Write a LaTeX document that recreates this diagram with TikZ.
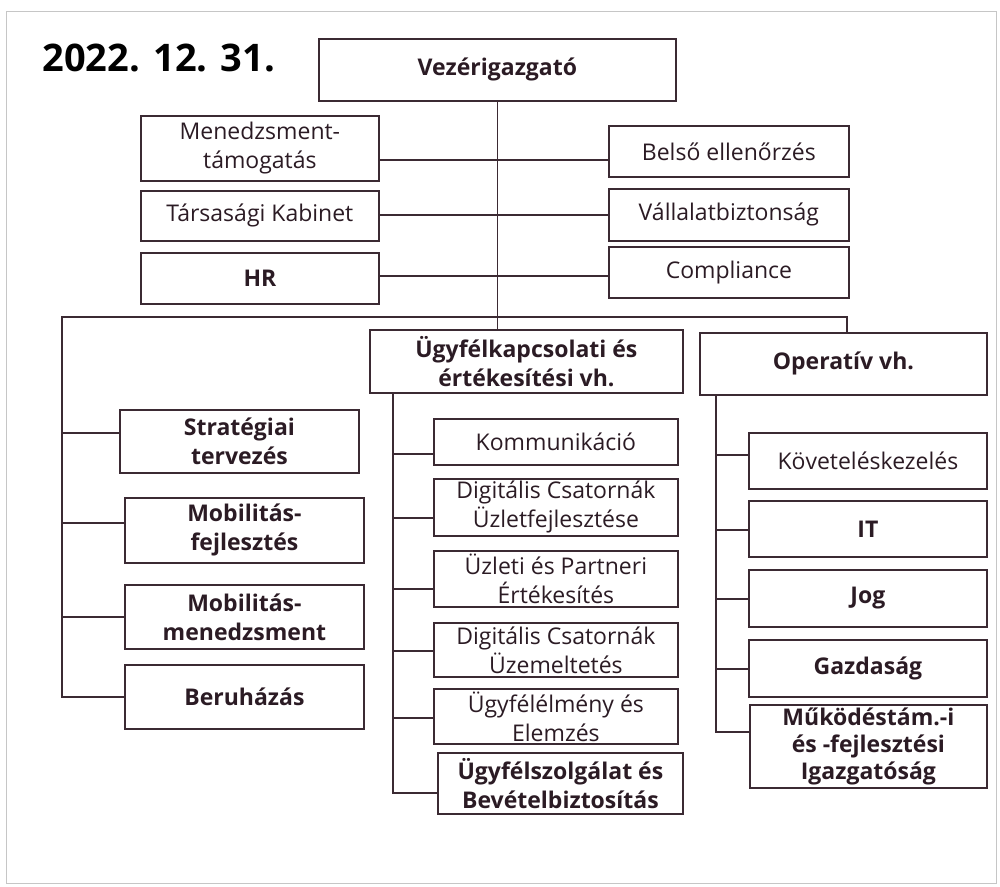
\documentclass[tikz,border=0pt]{standalone}
\usepackage{fontspec}
\setmainfont{Open Sans}
\definecolor{ink}{HTML}{2B1B24}
\definecolor{wire}{HTML}{3B2A33}
\begin{document}
\begin{tikzpicture}[x=1pt,y=-1pt,
  box/.style={draw=wire,line width=1.8pt,rectangle,anchor=north west,inner sep=0pt,
    align=center,text=ink,font=\fontsize{23}{29}\selectfont},
  bbox/.style={box,font=\fontsize{23}{29}\selectfont\bfseries},
  wire/.style={draw=wire,line width=1.5pt}]
\useasboundingbox (0,0) rectangle (1000,886);
\draw[gray!45,line width=1pt] (6,11) rectangle (996,883);
\node[anchor=base west,text=black,font=\fontsize{38}{46}\selectfont\bfseries] (title) at (39,71) {2022. 12. 31.};
% top
\node[bbox,minimum width=357pt,minimum height=62pt] (vez) at (318,38) {Vezérigazgató};
\node[box,minimum width=238pt,minimum height=65pt] (men) at (140,115) {Menedzsment-\\támogatás};
\node[box,minimum width=238pt,minimum height=50pt] (tar) at (140,190) {Társasági Kabinet};
\node[bbox,minimum width=238pt,minimum height=51pt] (hr) at (140,252) {HR};
\node[box,minimum width=240pt,minimum height=51pt] (bel) at (608,125) {Belső ellenőrzés};
\node[box,minimum width=240pt,minimum height=52pt] (val) at (608,188) {Vállalatbiztonság};
\node[box,minimum width=240pt,minimum height=51pt] (com) at (608,246) {Compliance};
% divisions
\node[bbox,minimum width=313pt,minimum height=63pt] (ugy) at (369,329) {Ügyfélkapcsolati és\\értékesítési vh.};
\node[bbox,minimum width=287pt,minimum height=62pt] (op) at (699,332) {Operatív vh.};
% left column
\node[bbox,minimum width=239pt,minimum height=63pt] (str) at (119,409) {Stratégiai\\tervezés};
\node[bbox,minimum width=239pt,minimum height=65pt] (mf) at (124,497) {Mobilitás-\\fejlesztés};
\node[bbox,minimum width=239pt,minimum height=64pt] (mm) at (124,584) {Mobilitás-\\menedzsment};
\node[bbox,minimum width=239pt,minimum height=64pt] (ber) at (124,664) {Beruházás};
% middle column
\node[box,minimum width=244pt,minimum height=46pt] (kom) at (433,418) {Kommunikáció};
\node[box,minimum width=244pt,minimum height=57pt] (dcu) at (433,478) {Digitális Csatornák\\Üzletfejlesztése};
\node[box,minimum width=244pt,minimum height=56pt] (uzp) at (433,550) {Üzleti és Partneri\\Értékesítés};
\node[box,minimum width=244pt,minimum height=54pt] (dcz) at (433,622) {Digitális Csatornák\\Üzemeltetés};
\node[box,minimum width=244pt,minimum height=55pt] (ugye) at (433,688) {Ügyfélélmény és\\Elemzés};
\node[bbox,minimum width=245pt,minimum height=61pt] (ugysz) at (437,752) {Ügyfélszolgálat és\\Bevételbiztosítás};
% right column
\node[box,minimum width=238pt,minimum height=56pt] (kov) at (748,432) {Követeléskezelés};
\node[bbox,minimum width=238pt,minimum height=56pt] (it) at (748,500) {IT};
\node[bbox,minimum width=238pt,minimum height=57pt] (jog) at (748,569) {Jog};
\node[bbox,minimum width=238pt,minimum height=57pt] (gaz) at (748,639) {Gazdaság};
\node[bbox,minimum width=237pt,minimum height=83pt,font=\fontsize{23}{27}\selectfont\bfseries] (muk) at (749,704) {Működéstám.-i\\és -fejlesztési\\Igazgatóság};
% coordinates
\coordinate (r1) at (497,160);
\coordinate (r2) at (497,215);
\coordinate (r3) at (497,276);
\coordinate (busL) at (62,317);
\coordinate (busR) at (847,317);
\coordinate (l1) at (62,433);
\coordinate (l2) at (62,523);
\coordinate (l3) at (62,617);
\coordinate (l4) at (62,697);
\coordinate (m0) at (393,392);
\coordinate (m1) at (393,454);
\coordinate (m2) at (393,518);
\coordinate (m3) at (393,589);
\coordinate (m4) at (393,651);
\coordinate (m5) at (393,718);
\coordinate (m6) at (393,793);
\coordinate (o0) at (716,394);
\coordinate (o1) at (716,455);
\coordinate (o2) at (716,530);
\coordinate (o3) at (716,599);
\coordinate (o4) at (716,669);
\coordinate (o5) at (716,732);
% connectors
\draw[wire] (vez.south) -- (vez.south |- ugy.north);
\draw[wire] (men.east |- r1) -- (bel.west |- r1);
\draw[wire] (tar.east |- r2) -- (val.west |- r2);
\draw[wire] (hr.east |- r3) -- (com.west |- r3);
\draw[wire] (busR |- op.north) -- (busR) -- (busL) -- (l4) -- (l4 -| ber.west);
\draw[wire] (l1) -- (l1 -| str.west);
\draw[wire] (l2) -- (l2 -| mf.west);
\draw[wire] (l3) -- (l3 -| mm.west);
\draw[wire] (m0 |- ugy.south) -- (m6) -- (m6 -| ugysz.west);
\draw[wire] (m1) -- (m1 -| kom.west);
\draw[wire] (m2) -- (m2 -| dcu.west);
\draw[wire] (m3) -- (m3 -| uzp.west);
\draw[wire] (m4) -- (m4 -| dcz.west);
\draw[wire] (m5) -- (m5 -| ugye.west);
\draw[wire] (o0 |- op.south) -- (o5) -- (o5 -| muk.west);
\draw[wire] (o1) -- (o1 -| kov.west);
\draw[wire] (o2) -- (o2 -| it.west);
\draw[wire] (o3) -- (o3 -| jog.west);
\draw[wire] (o4) -- (o4 -| gaz.west);
\end{tikzpicture}
\end{document}
